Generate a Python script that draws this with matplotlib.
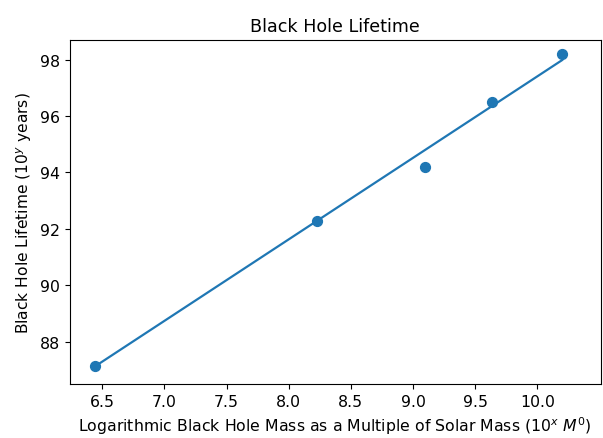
import matplotlib
matplotlib.use("Agg")
import matplotlib.pyplot as plt

# observed points
mass_log = [6.44, 8.23, 9.10, 9.64, 10.20]
lifetime_log = [87.15, 92.28, 94.19, 96.50, 98.19]

# fitted trend line
fit_x = [6.44, 10.20]
fit_y = [87.12, 97.98]

xticks = [6.5, 7.0, 7.5, 8.0, 8.5, 9.0, 9.5, 10.0]
yticks = [88, 90, 92, 94, 96, 98]

fig = plt.figure(figsize=(6.03, 4.39), dpi=100)
ax = fig.add_axes([0.116, 0.123, 0.88, 0.784])

ax.scatter(mass_log, lifetime_log, s=50, color='#1f77b4', zorder=3)
ax.plot(fit_x, fit_y, color='#1f77b4', linewidth=1.6)

ax.set_xlim(6.24, 10.51)
ax.set_ylim(86.5, 98.7)
ax.set_xticks(xticks)
ax.set_yticks(yticks)
ax.tick_params(labelsize=11.3)

ax.set_title("Black Hole Lifetime", fontsize=12.6)
ax.set_xlabel("Logarithmic Black Hole Mass as a Multiple of Solar Mass ($10^x$ $M^0$)", fontsize=11.3)
ax.set_ylabel("Black Hole Lifetime ($10^y$ years)", fontsize=11.2)

fig.savefig("out.png", dpi=100)
